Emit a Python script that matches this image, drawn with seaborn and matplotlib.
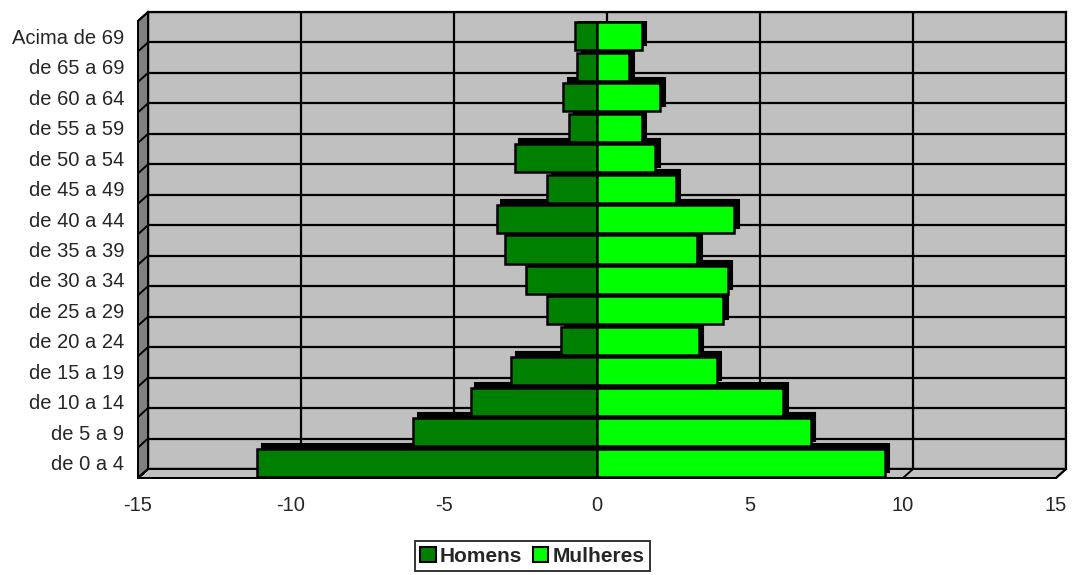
import numpy as np
import pandas as pd
import seaborn as sns
import matplotlib.pyplot as plt
from matplotlib.patches import Polygon, Patch, ConnectionPatch
from matplotlib.transforms import ScaledTranslation

# Data
faixas = ['Acima de 69', 'de 65 a 69', 'de 60 a 64', 'de 55 a 59', 'de 50 a 54',
          'de 45 a 49', 'de 40 a 44', 'de 35 a 39', 'de 30 a 34', 'de 25 a 29',
          'de 20 a 24', 'de 15 a 19', 'de 10 a 14', 'de 5 a 9', 'de 0 a 4']
homens = [-0.72, -0.65, -1.10, -0.90, -2.68, -1.63, -3.27, -3.00, -2.32, -1.63,
          -1.18, -2.81, -4.12, -6.01, -11.10]
mulheres = [1.47, 1.05, 2.06, 1.47, 1.90, 2.58, 4.48, 3.27, 4.28, 4.12,
            3.33, 3.92, 6.08, 6.99, 9.41]
xticks = [-15, -10, -5, 0, 5, 10, 15]

cores = {'Homens': '#008000', 'Mulheres': '#00ff00'}
preto = {'Homens': 'black', 'Mulheres': 'black'}

df = pd.DataFrame({
    'faixa': faixas * 2,
    'valor': homens + mulheres,
    'sexo': ['Homens'] * len(faixas) + ['Mulheres'] * len(faixas),
})

sns.set_style('white')
plt.rcParams['font.family'] = ['Liberation Sans', 'DejaVu Sans']

W, H = 1073, 575
fig = plt.figure(figsize=(W / 100, H / 100), dpi=100)


def rect(l, t, r, b):
    return [l / W, 1 - b / H, (r - l) / W, (b - t) / H]


def fpt(x, y):
    return (x / W, 1 - y / H)


n = len(faixas)
ylim = (n - 0.5, -0.5)

# back wall
ax_back = fig.add_axes(rect(148, 12, 1066, 469), zorder=0)
ax_back.set_facecolor('#c0c0c0')
ax_back.set_xlim(-15, 15)
ax_back.set_ylim(*ylim)
ax_back.set_xticks(xticks)
ax_back.set_yticks(np.arange(-0.5, n, 1))
ax_back.grid(True, color='black', linewidth=1.6)
ax_back.tick_params(length=0, labelbottom=False, labelleft=False)
for s in ax_back.spines.values():
    s.set_color('black')
    s.set_linewidth(1.6)

# floor and left wall
fl, fr, fb, bl, br, bb, ft = 138, 1056, 478, 148, 1066, 469, 21
bt = 12
fig.patches.append(Polygon([fpt(fl, fb), fpt(fr, fb), fpt(br, bb), fpt(bl, bb)],
                           closed=True, transform=fig.transFigure, facecolor='#c0c0c0',
                           edgecolor='black', linewidth=1.4, zorder=0.5))
fig.patches.append(Polygon([fpt(fl, ft), fpt(bl, bt), fpt(bl, bb), fpt(fl, fb)],
                           closed=True, transform=fig.transFigure, facecolor='#808080',
                           edgecolor='black', linewidth=1.4, zorder=0.5))

# front axes with the bars
ax = fig.add_axes(rect(fl, ft, fr, fb), zorder=1)
ax.set_facecolor('none')

# dark depth faces of the bars (same bars, pushed back and up)
sns.barplot(data=df, x='valor', y='faixa', hue='sexo', order=faixas, dodge=False,
            palette=preto, saturation=1, width=0.92, edgecolor='black',
            linewidth=1.5, legend=False, ax=ax)
shift = ScaledTranslation(0.045, 0.05, fig.dpi_scale_trans)
for p in ax.patches:
    p.set_transform(ax.transData + shift)

sns.barplot(data=df, x='valor', y='faixa', hue='sexo', order=faixas, dodge=False,
            palette=cores, saturation=1, width=0.92, edgecolor='black',
            linewidth=1.8, legend=False, ax=ax)

ax.set_xlim(-15, 15)
ax.set_ylim(*ylim)
ax.set_xticks(xticks)
ax.set_xticklabels([str(t) for t in xticks])
ax.set_yticks(range(n))
ax.set_yticks(np.arange(-0.5, n, 1), minor=True)
ax.tick_params(axis='y', which='major', length=0, pad=10, labelsize=14.5)
ax.tick_params(axis='y', which='minor', length=7, width=1.4, color='black', direction='out')
ax.tick_params(axis='x', length=7, width=1.4, color='black', direction='out', pad=6,
               labelsize=14.5)
ax.set_xlabel('')
ax.set_ylabel('')
for k in ['top', 'right']:
    ax.spines[k].set_visible(False)
for k in ['left', 'bottom']:
    ax.spines[k].set_color('black')
    ax.spines[k].set_linewidth(1.4)

# depth lines on floor and left wall
for t in xticks:
    fig.add_artist(ConnectionPatch(xyA=(t, ylim[0]), coordsA=ax.transData,
                                   xyB=(t, ylim[0]), coordsB=ax_back.transData,
                                   color='black', linewidth=1.4, zorder=0.6))
for b in np.arange(-0.5, n, 1):
    fig.add_artist(ConnectionPatch(xyA=(-15, b), coordsA=ax.transData,
                                   xyB=(-15, b), coordsB=ax_back.transData,
                                   color='black', linewidth=1.4, zorder=0.6))

handles = [Patch(facecolor=cores[k], edgecolor='black', linewidth=1.5, label=k) for k in cores]
leg = fig.legend(handles=handles, loc='lower center', bbox_to_anchor=(0.496, 0.0),
                 ncol=2, frameon=True, fancybox=False, edgecolor='black',
                 prop={'weight': 'bold', 'size': 15}, handlelength=0.75,
                 handleheight=0.75, handletextpad=0.2, columnspacing=0.5,
                 borderpad=0.25, borderaxespad=0.2)
leg.get_frame().set_linewidth(1.4)

fig.savefig('out.png', dpi=100)
